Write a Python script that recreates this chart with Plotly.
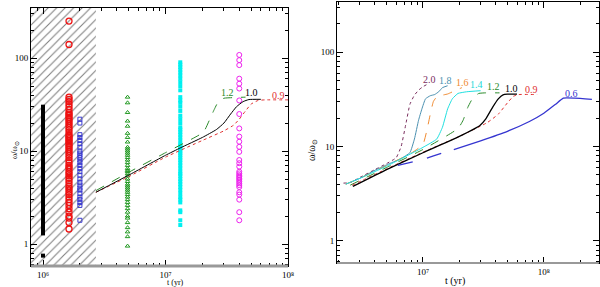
import math
import plotly.graph_objects as go

# ---------------- data: left panel (observations) ----------------
t_black = 1.0e6
w_black = [30, 28, 26, 25, 23, 22, 21, 20, 19, 18, 17, 16, 15, 14.5, 14, 13, 12.5, 12, 11.5, 11,
           10.5, 10, 9.5, 9, 8.7, 8.3, 8, 7.6, 7.2, 7, 6.7, 6.4, 6.1, 5.8, 5.5, 5.2, 5, 4.8, 4.6,
           4.4, 4.2, 4, 3.8, 3.6, 3.4, 3.2, 3, 2.9, 2.7, 2.6, 2.5, 2.4, 2.3, 2.2, 2.1, 2.0, 1.9,
           1.8, 1.7, 1.6, 1.5, 1.4, 1.3, 0.75]
t_red = 1.63e6
w_red = [250, 140, 38, 36, 34, 32, 30, 28, 26, 25, 24, 23, 22, 21, 20, 19, 18, 17, 16, 15, 14.5, 14,
         13.5, 13, 12.5, 12, 11.5, 11, 10.5, 10, 9.5, 9, 8.5, 8, 7.5, 7, 6.7, 6.4, 6, 5.7, 5.4,
         5.1, 4.8, 4.5, 4.2, 4, 3.8, 3.6, 3.4, 3.2, 3, 2.8, 2.6, 2.4, 2.2, 2.0, 1.9, 1.7, 1.45]
t_blue = 2.0e6
w_blue = [22, 20, 15, 14, 13, 12, 11, 10, 9.5, 9, 8.5, 8, 7.5, 7, 6.5, 6, 5.5, 5, 4.6, 4.3, 4,
          3.8, 3.5, 3.2, 3, 2.8, 2.6, 1.8]
t_green = 4.9e6
w_green = [38, 33, 26, 21, 18.5, 15.5, 14, 12.5, 11, 10.5, 10, 9.5, 9, 8.5, 8, 7.5, 7, 6.5, 6.2,
           6, 5.7, 5.4, 5, 4.7, 4.4, 4.2, 4, 3.8, 3.6, 3.4, 3.2, 3, 2.8, 2.6, 2.4, 2.2, 2.0, 1.9,
           1.7, 1.5, 1.35, 1.2, 0.95]
t_cyan = 1.32e7
w_cyan = [90, 85, 80, 75, 70, 65, 60, 55, 50, 45, 38, 35, 33, 30, 27, 24, 22, 20, 18, 17, 16, 15,
          14, 13, 12, 11.5, 11, 10.5, 10, 9.5, 9, 8.5, 8, 7.5, 7, 6.5, 6, 5.7, 5.4, 5, 4.7, 4.4,
          4.1, 3.8, 3.5, 3.2, 3, 2.8, 2.3, 2.2, 1.8, 1.6]
t_mag = 4.0e7
w_mag = [108, 95, 84, 60, 53, 47, 35, 25, 17.5, 14.3, 12.6, 11.1, 9.8, 8, 7.4, 6.8, 6, 5.75, 5.5,
         5.3, 5.1, 4.9, 4.7, 4.5, 4.3, 4.1, 3.6, 3.4, 3, 2.2, 1.8]

hatch_t = [8.0e5, 2.7e6]

# left-panel model curves
L10_t = [2.7e6, 5e6, 1e7, 1.32e7, 2e7, 2.6e7, 3e7, 3.4e7, 3.8e7, 4.3e7, 4.8e7, 6e7]
L10_w = [3.6, 5.5, 9.0, 10.8, 14, 17, 20, 25, 30, 34, 35.8, 36]
L12_t = [2.7e6, 5e6, 1e7, 1.9e7, 2.1e7, 2.3e7, 2.5e7, 2.7e7, 3e7, 3.5e7, 4.5e7]
L12_w = [3.75, 5.9, 9.6, 15, 17, 22, 28, 34, 37, 37.5, 38]
L09_t = [2.7e6, 5e6, 1e7, 2e7, 3e7, 3.6e7, 4e7, 4.5e7, 5e7, 5.7e7, 6.5e7, 1e8]
L09_w = [3.6, 5.3, 8.6, 13, 16.5, 19, 22, 27, 32, 35, 35.5, 35.5]

# ---------------- data: right panel (models) ----------------
R20_t = [2.2e6, 2.5e6, 3e6, 4e6, 5e6, 6e6, 6.6e6, 7.2e6, 7.8e6, 8.5e6, 9.3e6, 1e7, 1.1e7]
R20_w = [4.1, 4.15, 4.7, 5.7, 6.6, 7.6, 10, 17, 28, 35, 40, 43, 46]
R18_t = [2.3e6, 3e6, 4e6, 5e6, 6.5e6, 7.8e6, 8.5e6, 9.2e6, 9.8e6, 1.05e7, 1.15e7, 1.25e7, 1.35e7, 1.45e7, 1.6e7]
R18_w = [4.0, 4.6, 5.6, 6.4, 7.4, 8.6, 12, 19, 25, 32, 34.5, 35.5, 38, 42, 44]
R16_t = [2.3e6, 3e6, 5e6, 8e6, 1e7, 1.08e7, 1.15e7, 1.22e7, 1.3e7, 1.45e7, 1.6e7, 1.8e7, 2.1e7]
R16_w = [4.0, 4.6, 6.3, 8.5, 10.5, 15, 22, 30, 33.5, 35, 36, 38.5, 42]
R14_t = [2.3e6, 3e6, 5e6, 1e7, 1.3e7, 1.45e7, 1.6e7, 1.75e7, 1.95e7, 2.3e7, 3e7]
R14_w = [4.0, 4.6, 6.2, 9.8, 12, 16, 25, 32, 36.5, 38, 39]
R12_t = [2.5e6, 5e6, 1e7, 1.95e7, 2.15e7, 2.35e7, 2.6e7, 2.9e7, 3.3e7, 4.3e7]
R12_w = [3.9, 6.0, 9.3, 15.5, 19, 26, 33, 36.5, 37, 37]
R10_t = [2.63e6, 5e6, 1e7, 2e7, 2.96e7, 3.3e7, 3.8e7, 4.2e7, 4.6e7, 5e7, 6e7]
R10_w = [3.78, 5.7, 8.6, 12.8, 16.7, 19.5, 26.5, 32, 35.3, 35.8, 35.8]
R09_t = [2.6e6, 5e6, 1e7, 2e7, 3.4e7, 4.2e7, 5e7, 5.6e7, 6.2e7, 8.8e7]
R09_w = [3.9, 5.8, 8.7, 12.8, 17.9, 22, 29, 34, 35.5, 35.5]
R06a_t = [6.2e6, 1e7, 1.5e7, 1.8e7]
R06a_w = [6.3, 7.3, 8.7, 9.3]
R06b_t = [1.8e7, 3e7, 5e7, 7.6e7, 1e8, 1.25e8, 1.45e8, 1.8e8, 2.5e8]
R06b_w = [9.3, 11.5, 14.5, 18.4, 22.5, 28, 32.5, 32.5, 31.5]

labels_left = [("1.2", 3.18e7, 43, "#2a8a2a"), ("1.0", 5.0e7, 43, "#000000"), ("0.9", 8.3e7, 40, "#e03030")]
labels_right = [("2.0", 1.14e7, 51, "#7a2e5e"), ("1.8", 1.55e7, 50, "#4a90b0"),
                ("1.6", 2.14e7, 47.5, "#f08a30"), ("1.4", 2.79e7, 45, "#20d8d8"),
                ("1.2", 3.87e7, 43, "#2a8a2a"), ("1.0", 5.44e7, 41, "#000000"),
                ("0.9", 7.95e7, 40, "#e03030"), ("0.6", 1.7e8, 36, "#3535d0")]

xt_left_vals = [1e6, 1e7, 1e8]
xt_left_text = ["10⁶", "10⁷", "10⁸"]
xt_right_vals = [1e7, 1e8]
xt_right_text = ["10⁷", "10⁸"]
yt_vals = [1, 10, 100]
yt_text = ["1", "10", "100"]

# ---------------- figure ----------------
fig = go.Figure()
FONT = "Liberation Serif"

# hatched region
fig.add_trace(go.Scatter(x=[hatch_t[0], hatch_t[1], hatch_t[1], hatch_t[0], hatch_t[0]],
                         y=[0.58, 0.58, 345, 345, 0.58], fill="toself", mode="lines",
                         line=dict(width=0), fillcolor="rgba(0,0,0,0)",
                         fillpattern=dict(shape="/", size=6, solidity=0.18, fgcolor="#000000",
                                          bgcolor="white"),
                         xaxis="x", yaxis="y", hoverinfo="skip"))

def col(t, w, **kw):
    fig.add_trace(go.Scatter(x=[t] * len(w), y=w, mode="markers", xaxis="x", yaxis="y", **kw))

col(t_black, w_black, marker=dict(symbol="square", size=4, color="black"))
col(t_red, w_red, marker=dict(symbol="circle-open", size=6, color="#ee1111", line=dict(width=1.3)))
col(t_blue, w_blue, marker=dict(symbol="square-open", size=4, color="#3a3ad0", line=dict(width=1)))
col(t_green, w_green, marker=dict(symbol="triangle-up-open", size=4, color="#229922", line=dict(width=1)))
col(t_cyan, w_cyan, marker=dict(symbol="square", size=4, color="#00f0f0"))
col(t_mag, w_mag, marker=dict(symbol="circle-open", size=5, color="#ee22ee", line=dict(width=1)))

def line(x, y, color, dash, ax, width=1):
    fig.add_trace(go.Scatter(x=x, y=y, mode="lines",
                             line=dict(color=color, dash=dash, width=width, shape="spline", smoothing=0.4),
                             xaxis=ax[0], yaxis=ax[1]))

line(L12_t, L12_w, "#2a8a2a", "dash", ("x", "y"))
line(L09_t, L09_w, "#e03030", "dot", ("x", "y"))
line(L10_t, L10_w, "#000000", "solid", ("x", "y"))

line(R20_t, R20_w, "#7a2e5e", "dot", ("x2", "y2"))
line(R18_t, R18_w, "#4a90b0", "solid", ("x2", "y2"))
line(R16_t, R16_w, "#f08a30", "dash", ("x2", "y2"))
line(R14_t, R14_w, "#20e0e0", "solid", ("x2", "y2"))
line(R12_t, R12_w, "#2a8a2a", "dash", ("x2", "y2"))
line(R09_t, R09_w, "#e03030", "dot", ("x2", "y2"))
line(R10_t, R10_w, "#000000", "solid", ("x2", "y2"), 1.3)
line(R06a_t, R06a_w, "#3535d0", "longdash", ("x2", "y2"), 1.3)
line(R06b_t, R06b_w, "#3535d0", "solid", ("x2", "y2"), 1.3)

for txt, x, y, c in labels_left:
    fig.add_annotation(x=math.log10(x), y=math.log10(y), xref="x", yref="y",
                       text=txt, showarrow=False, font=dict(family=FONT, size=10, color=c))
for txt, x, y, c in labels_right:
    fig.add_annotation(x=math.log10(x), y=math.log10(y), xref="x2", yref="y2",
                       text=txt, showarrow=False, font=dict(family=FONT, size=10, color=c))

# axis titles as annotations
fig.add_annotation(x=165 / 600, y=1 - 282 / 287, xref="paper", yref="paper", text="t (yr)",
                   showarrow=False, font=dict(family=FONT, size=8, color="black"), yanchor="middle")
fig.add_annotation(x=467 / 600, y=1 - 281 / 287, xref="paper", yref="paper", text="t (yr)",
                   showarrow=False, font=dict(family=FONT, size=10, color="black"), yanchor="middle")
fig.add_annotation(x=8 / 600, y=1 - 150 / 287, xref="paper", yref="paper", text="ω/ω<sub>⊙</sub>",
                   textangle=-90, showarrow=False, font=dict(family=FONT, size=8, color="black"))
fig.add_annotation(x=312 / 600, y=1 - 150 / 287, xref="paper", yref="paper", text="ω/ω<sub>⊙</sub>",
                   textangle=-90, showarrow=False, font=dict(family=FONT, size=10, color="black"))

def minor_vals(d0, d1):
    return [m * 10 ** d for d in range(d0, d1) for m in range(2, 10)]

axis_common = dict(type="log", showline=True, linecolor="black", linewidth=1, mirror="allticks",
                   ticks="inside", ticklen=6, tickcolor="black", showgrid=False, zeroline=False,
                   automargin=False, tickfont=dict(family=FONT, size=9, color="black"))

fig.update_layout(
    width=600, height=287, margin=dict(l=0, r=0, t=0, b=0, autoexpand=False),
    paper_bgcolor="white", plot_bgcolor="white", showlegend=False,
    xaxis=dict(axis_common, domain=[0.0517, 0.48], range=[5.902, 8.0], anchor="y",
               tickvals=xt_left_vals, ticktext=xt_left_text,
               minor=dict(tickvals=minor_vals(5, 8), ticks="inside", ticklen=3, tickcolor="black")),
    yaxis=dict(axis_common, domain=[0.073, 0.972], range=[-0.237, 2.538], anchor="x",
               tickvals=yt_vals, ticktext=yt_text,
               minor=dict(tickvals=minor_vals(-1, 3), ticks="inside", ticklen=3, tickcolor="black")),
    xaxis2=dict(axis_common, domain=[0.5617, 0.998], range=[6.289, 8.455], anchor="y2",
                tickvals=xt_right_vals, ticktext=xt_right_text,
                minor=dict(tickvals=minor_vals(6, 9), ticks="inside", ticklen=3, tickcolor="black")),
    yaxis2=dict(axis_common, domain=[0.0836, 0.993], range=[-0.233, 2.53], anchor="x2",
                tickvals=yt_vals, ticktext=yt_text,
                minor=dict(tickvals=minor_vals(-1, 3), ticks="inside", ticklen=3, tickcolor="black")),
)

# gray bottom axis bands
fig.add_shape(type="line", xref="x domain", yref="y domain", x0=0, x1=1, y0=0, y1=0,
              line=dict(color="#999999", width=3))
fig.add_shape(type="line", xref="x2 domain", yref="y2 domain", x0=0, x1=1, y0=0, y1=0,
              line=dict(color="#999999", width=2))

fig.write_html("out.html", config={"displayModeBar": False},
               post_script="document.body.style.margin='0';document.body.style.overflow='hidden';")
